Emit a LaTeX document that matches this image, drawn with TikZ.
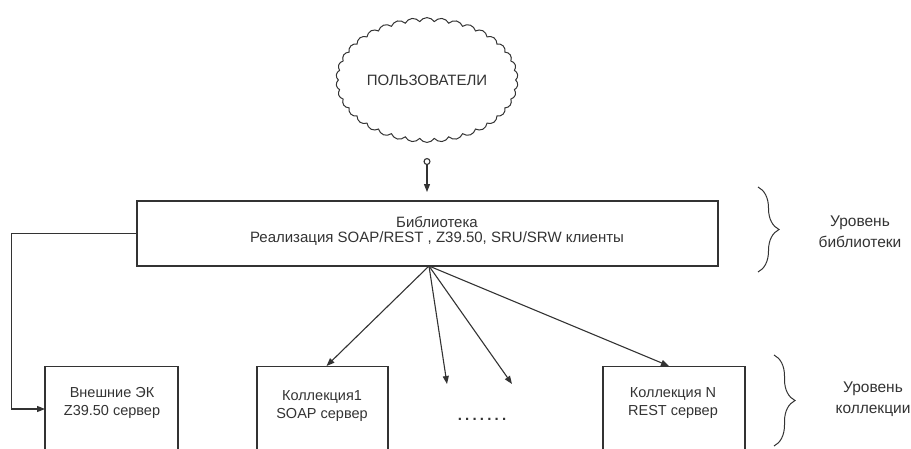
\documentclass[tikz,border=0pt]{standalone}
\usepackage{fontspec}
\setmainfont{Liberation Sans}
\usetikzlibrary{arrows.meta,shapes.symbols,decorations.pathreplacing}
\begin{document}
\begin{tikzpicture}[x=1pt,y=-1pt,
  font=\fontsize{15}{15}\selectfont,
  ln/.style={draw=black!80, line width=1.1pt},
  box/.style={ln, rectangle, inner sep=0pt, align=center},
  lbl/.style={align=center, inner sep=0pt, text=black!80},
  boxtext/.style={lbl, font=\fontsize{14.5}{17.5}\selectfont},
  sidetext/.style={lbl, font=\fontsize{15.5}{21}\selectfont},
  arr/.style={ln, -{Triangle[length=8pt,width=6pt]}},
  brc/.style={draw=black!80, line width=1pt, decorate, decoration={brace, amplitude=21pt}},
]
\useasboundingbox (0,0) rectangle (911,448);
\clip (0,0) rectangle (911,448);

% cloud
\node[cloud, draw=black!80, line width=1pt, cloud puffs=38, cloud puff arc=115, aspect=1.45,
      minimum width=182pt, minimum height=124pt, inner sep=0pt, text=black!80,
      font=\fontsize{15}{16}\selectfont] (users) at (427,80) {ПОЛЬЗОВАТЕЛИ};

% library box
\node[box, minimum width=581pt, minimum height=65pt] (lib) at (427.5,233.5) {};
\node[lbl] (libtext) at (437,230.5) {Библиотека\\Реализация SOAP/REST , Z39.50, SRU/SRW клиенты};

% users -> library
\coordinate (ustart) at (427,158);
\coordinate (uend) at (427,192);
\draw[ln, {Circle[open,length=7pt,width=7pt]}-{Triangle[length=8pt,width=6pt]}] (ustart) -- (uend);

% collection level boxes
\node[box, minimum width=133pt, minimum height=110pt, anchor=north] (ek) at (111.5,366) {};
\node[boxtext] (ektext) at (112,403) {Внешние ЭК\\Z39.50 сервер};

\node[box, minimum width=131pt, minimum height=110pt, anchor=north] (k1) at (322.5,366) {};
\node[boxtext] (k1text) at (322,406) {Коллекция1\\SOAP сервер};

\node[box, minimum width=142pt, minimum height=110pt, anchor=north] (kn) at (674,366) {};
\node[boxtext] (kntext) at (673,403) {Коллекция N\\REST сервер};

\node[lbl, font=\fontsize{15}{15}\selectfont\bfseries] (dots) at (482,419)
  {.\kern3.2pt.\kern3.2pt.\kern3.2pt.\kern3.2pt.\kern3.2pt.\kern3.2pt.};

% arrows from library
\coordinate (hub) at (429,266);
\coordinate (e2) at (447,384);
\coordinate (e3) at (512,384);
\draw[arr] (hub) -- ([xshift=4pt]k1.north);
\draw[arr] (hub) -- (e2);
\draw[arr] (hub) -- (e3);
\draw[arr] (hub) -- ([xshift=-5pt]kn.north);

% library -> external catalogue
\coordinate (ekin) at (45,409);
\draw[arr] (lib.west) -- ++(-125,0) |- (ekin);

% braces
\coordinate (b1a) at (758,187);
\coordinate (b1b) at (758,272);
\draw[brc] (b1a) -- (b1b);
\node[sidetext] (lvl1) at (860,232) {Уровень\\библиотеки};

\coordinate (b2a) at (774,355);
\coordinate (b2b) at (774,446);
\draw[brc] (b2a) -- (b2b);
\node[sidetext] (lvl2) at (873,399) {Уровень\\коллекции};
\end{tikzpicture}
\end{document}
